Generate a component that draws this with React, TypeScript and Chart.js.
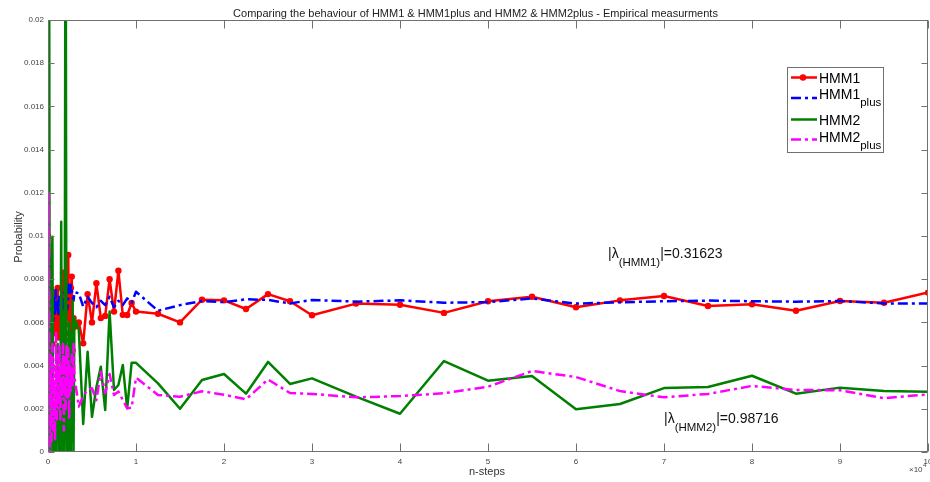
import React, { useEffect, useRef } from 'react';
import { Chart, registerables } from 'chart.js';

Chart.register(...registerables);

// n-steps at which each probability was measured
const steps = [
  0, 100, 200, 300, 400, 500, 600, 700, 800, 900,
  1000, 1100, 1200, 1300, 1400, 1500, 1600, 1700, 1800, 1900,
  2000, 2100, 2200, 2300, 2400, 2500, 2600, 2700, 2800, 2900,
  3000, 3500, 4000, 4500, 5000, 5500, 6000, 6500, 7000, 7500,
  8000, 8500, 9000, 9500, 10000, 12500, 15000, 17500, 20000, 22500,
  25000, 27500, 30000, 35000, 40000, 45000, 50000, 55000, 60000, 65000,
  70000, 75000, 80000, 85000, 90000, 95000, 100000,
];

const hmm1 = [
  0.0100, 0.00504, 0.0068, 0.0056, 0.0072, 0.0050, 0.0065, 0.0074, 0.0055, 0.0069,
  0.0060, 0.0076, 0.0053, 0.0066, 0.0070, 0.0058, 0.0064, 0.0083, 0.0056, 0.0068,
  0.0059, 0.0072, 0.0062, 0.00912, 0.0055, 0.0052, 0.0076, 0.00812, 0.0047, 0.0062,
  0.0058, 0.0060, 0.00503, 0.00731, 0.0060, 0.00781, 0.0062, 0.0063, 0.0080, 0.0065,
  0.00839, 0.00635, 0.00634, 0.0069, 0.0065, 0.0064, 0.0060, 0.00705, 0.00702, 0.00662,
  0.00731, 0.00698, 0.00633, 0.00687, 0.00682, 0.00644, 0.00698, 0.00719, 0.00670, 0.00702,
  0.00722, 0.00676, 0.00684, 0.00654, 0.00699, 0.00691, 0.00738,
];

const hmm1plus = [
  0.0050, 0.0076, 0.0062, 0.0074, 0.0065, 0.0077, 0.0060, 0.0072, 0.0064, 0.0075,
  0.0066, 0.0070, 0.0063, 0.0073, 0.0068, 0.0076, 0.0065, 0.0071, 0.0067, 0.0074,
  0.0069, 0.0077, 0.0066, 0.0072, 0.0078, 0.0073, 0.00773, 0.0075, 0.0072, 0.0070,
  0.0074, 0.00735, 0.00673, 0.00719, 0.0069, 0.0067, 0.0070, 0.0068, 0.00719, 0.0067,
  0.0070, 0.0068, 0.00711, 0.0069, 0.00742, 0.00654, 0.0068, 0.00699, 0.00694, 0.00707,
  0.00704, 0.00688, 0.00704, 0.00696, 0.00702, 0.00691, 0.00694, 0.00711, 0.00687, 0.00693,
  0.00698, 0.00701, 0.00698, 0.00696, 0.00699, 0.00688, 0.00688,
];

const hmm2 = [
  0.0, 0.035, 0.0005, 0.0, 0.0076, 0.00997, 0.0, 0.0020, 0.0, 0.0030,
  0.0005, 0.0050, 0.0, 0.0015, 0.0, 0.01066, 0.0, 0.0065, 0.0, 0.0045,
  0.030, 0.0, 0.0040, 0.0, 0.0060, 0.0, 0.0055, 0.0005, 0.0070, 0.0,
  0.0062, 0.00565, 0.0013, 0.00464, 0.00163, 0.0030, 0.00395, 0.00194, 0.0065, 0.00287,
  0.0031, 0.00403, 0.00202, 0.00413, 0.00413, 0.00318, 0.0020, 0.00333, 0.00361, 0.0027,
  0.00417, 0.00315, 0.00341, 0.00256, 0.00177, 0.00421, 0.0033, 0.00352, 0.00198, 0.00222,
  0.00296, 0.00301, 0.00353, 0.0027, 0.00298, 0.00282, 0.00279,
];

const hmm2plus = [
  0.0, 0.0120, 0.0, 0.0045, 0.0005, 0.0050, 0.0010, 0.0040, 0.0005, 0.0055,
  0.0015, 0.0045, 0.0020, 0.0050, 0.0015, 0.0040, 0.0025, 0.0050, 0.0010, 0.0045,
  0.0020, 0.0050, 0.0025, 0.0048, 0.0015, 0.0040, 0.0028, 0.0045, 0.0030, 0.0050,
  0.00349, 0.0021, 0.0026, 0.00287, 0.00295, 0.0024, 0.00372, 0.00272, 0.00361, 0.00264,
  0.0028, 0.00241, 0.00202, 0.00205, 0.00344, 0.00264, 0.00256, 0.00281, 0.00265, 0.00244,
  0.00336, 0.00273, 0.00269, 0.00253, 0.00259, 0.00272, 0.00302, 0.00375, 0.00347, 0.00282,
  0.00253, 0.00269, 0.00306, 0.00287, 0.00286, 0.00249, 0.00267,
];

const xTicks = [0, 10000, 20000, 30000, 40000, 50000, 60000, 70000, 80000, 90000, 100000];
const yTicks = [0, 0.002, 0.004, 0.006, 0.008, 0.01, 0.012, 0.014, 0.016, 0.018, 0.02];

const titleText = 'Comparing the behaviour of HMM1 & HMM1plus and HMM2 & HMM2plus - Empirical measurments';
const yTitle = 'Probability';
const xTitle = 'n-steps';
const legendMain = ['HMM1', 'HMM1', 'HMM2', 'HMM2'];
const legendSub = ['', 'plus', '', 'plus'];
const annot1 = ['|\u03BB', '(HMM1)', '|=0.31623'];
const annot2 = ['|\u03BB', '(HMM2)', '|=0.98716'];

const RED = '#ff0000';
const BLUE = '#0000ff';
const GREEN = '#008000';
const MAGENTA = '#ff00ff';
const AXIS = '#707070';
const FONT = '"Liberation Sans", Arial, Helvetica, sans-serif';
const DASHDOT = [10, 4, 3, 4];

function pts(vals: number[]) {
  return steps.map((s, i) => ({ x: s, y: vals[i] }));
}

function drawSub(ctx: CanvasRenderingContext2D, x: number, base: number, pre: string, sub: string, post: string, size: number, subSize: number, drop: number) {
  ctx.textAlign = 'left';
  ctx.textBaseline = 'alphabetic';
  ctx.font = `${size}px ${FONT}`;
  ctx.fillText(pre, x, base);
  x += ctx.measureText(pre).width;
  if (sub) {
    ctx.font = `${subSize}px ${FONT}`;
    ctx.fillText(sub, x, base + drop);
    x += ctx.measureText(sub).width;
  }
  if (post) {
    ctx.font = `${size}px ${FONT}`;
    ctx.fillText(post, x, base);
  }
}

const overlay = {
  id: 'overlay',
  afterDraw(chart: any) {
    const { ctx, chartArea: a, scales } = chart;
    const xs = scales.x;
    const ys = scales.y;
    ctx.save();
    // axes box
    ctx.strokeStyle = AXIS;
    ctx.lineWidth = 1;
    ctx.setLineDash([]);
    const L = Math.round(a.left) + 0.5;
    const R = Math.round(a.right) - 0.5;
    const T = Math.round(a.top) + 0.5;
    const B = Math.round(a.bottom) - 0.5;
    ctx.strokeRect(L, T, R - L, B - T);
    // inward ticks
    ctx.beginPath();
    xTicks.forEach((v) => {
      const px = Math.round(xs.getPixelForValue(v)) + 0.5;
      ctx.moveTo(px, B); ctx.lineTo(px, B - 8);
      ctx.moveTo(px, T); ctx.lineTo(px, T + 8);
    });
    yTicks.forEach((v) => {
      const py = Math.round(ys.getPixelForValue(v)) + 0.5;
      ctx.moveTo(L, py); ctx.lineTo(L + 6, py);
      ctx.moveTo(R, py); ctx.lineTo(R - 6, py);
    });
    ctx.stroke();

    // title
    ctx.fillStyle = '#222';
    ctx.font = `11px ${FONT}`;
    ctx.textAlign = 'center';
    ctx.textBaseline = 'alphabetic';
    ctx.fillText(titleText, 475.5, 17);

    // axis titles
    ctx.fillStyle = '#333';
    ctx.font = `11px ${FONT}`;
    ctx.fillText(xTitle, 487, 475);
    ctx.save();
    ctx.translate(22, 237);
    ctx.rotate(-Math.PI / 2);
    ctx.textAlign = 'center';
    ctx.fillText(yTitle, 0, 0);
    ctx.restore();

    // x10^4 exponent
    ctx.fillStyle = '#444';
    ctx.textAlign = 'left';
    ctx.font = `8px ${FONT}`;
    ctx.fillText('\u00D710', 909, 472);
    const w = ctx.measureText('\u00D710').width;
    ctx.font = `6px ${FONT}`;
    ctx.fillText('4', 909 + w + 0.5, 467);

    // annotations
    ctx.fillStyle = '#111';
    drawSub(ctx, 608, 258, annot1[0], annot1[1], annot1[2], 14, 11.5, 8);
    drawSub(ctx, 664, 423, annot2[0], annot2[1], annot2[2], 14, 11.5, 8);

    // legend
    const bx = 787.5, by = 67.5, bw = 96, bh = 85;
    ctx.fillStyle = '#fff';
    ctx.fillRect(bx, by, bw, bh);
    ctx.strokeStyle = AXIS;
    ctx.lineWidth = 1;
    ctx.strokeRect(bx, by, bw, bh);
    const colors = [RED, BLUE, GREEN, MAGENTA];
    const dashes = [[], DASHDOT, [], DASHDOT];
    const lineY = [77.5, 98, 119.5, 139.5];
    const baseY = [83.3, 99.3, 125, 141.7];
    for (let i = 0; i < 4; i++) {
      ctx.strokeStyle = colors[i];
      ctx.lineWidth = 2.5;
      ctx.setLineDash(dashes[i]);
      ctx.beginPath();
      ctx.moveTo(791, lineY[i]);
      ctx.lineTo(817, lineY[i]);
      ctx.stroke();
      ctx.setLineDash([]);
      if (i === 0) {
        ctx.fillStyle = RED;
        ctx.beginPath();
        ctx.arc(803, lineY[i], 3.2, 0, Math.PI * 2);
        ctx.fill();
      }
      ctx.fillStyle = '#000';
      drawSub(ctx, 819, baseY[i], legendMain[i], legendSub[i], '', 14, 11.5, 7);
    }
    ctx.restore();
  },
};

export default function App() {
  const ref = useRef<HTMLCanvasElement | null>(null);
  useEffect(() => {
    document.body.style.margin = '0';
    const canvas = ref.current;
    if (!canvas) return;
    const chart = new Chart(canvas, {
      type: 'line',
      data: {
        datasets: [
          {
            label: 'HMM1', data: pts(hmm1), borderColor: RED, backgroundColor: RED,
            borderWidth: 2.5, borderJoinStyle: 'round', pointRadius: 3.2, pointBorderWidth: 0,
            pointBackgroundColor: RED, tension: 0, order: 4,
          },
          {
            label: 'HMM1plus', data: pts(hmm1plus), borderColor: BLUE, borderWidth: 2.5,
            borderJoinStyle: 'round', borderDash: DASHDOT, pointRadius: 0, tension: 0, order: 3,
          },
          {
            label: 'HMM2', data: pts(hmm2), borderColor: GREEN, borderWidth: 2.5,
            borderJoinStyle: 'round', pointRadius: 0, tension: 0, order: 2,
          },
          {
            label: 'HMM2plus', data: pts(hmm2plus), borderColor: MAGENTA, borderWidth: 2.5,
            borderJoinStyle: 'round', borderDash: DASHDOT, pointRadius: 0, tension: 0, order: 1,
          },
        ],
      },
      options: {
        animation: false,
        responsive: false,
        maintainAspectRatio: false,
        devicePixelRatio: 1,
        events: [],
        layout: { padding: { top: 20, right: 22, bottom: 0, left: 0 } },
        plugins: { legend: { display: false }, title: { display: false }, tooltip: { enabled: false } },
        scales: {
          x: {
            type: 'linear', min: 0, max: 100000,
            grid: { display: false, drawTicks: false },
            border: { display: false },
            ticks: {
              stepSize: 10000, autoSkip: false, maxRotation: 0, padding: 5,
              color: '#444', font: { family: FONT, size: 8 },
              callback: (v: any) => String(Math.round(Number(v) / 10000)),
            },
            afterFit: (s: any) => { s.height = 30; },
          },
          y: {
            type: 'linear', min: 0, max: 0.02,
            grid: { display: false, drawTicks: false },
            border: { display: false },
            ticks: {
              stepSize: 0.002, autoSkip: false, padding: 4,
              color: '#444', font: { family: FONT, size: 8 },
              callback: (v: any) => (Number(v) === 0 ? '0' : String(+Number(v).toFixed(3))),
            },
            afterFit: (s: any) => { s.width = 48; },
          },
        },
      },
      plugins: [overlay],
    });
    return () => chart.destroy();
  }, []);
  return (
    <div style={{ position: 'fixed', left: 0, top: 0, width: 930, height: 482, overflow: 'hidden', background: '#fff' }}>
      <canvas ref={ref} width={950} height={482} style={{ display: 'block', width: 950, height: 482 }} />
    </div>
  );
}
